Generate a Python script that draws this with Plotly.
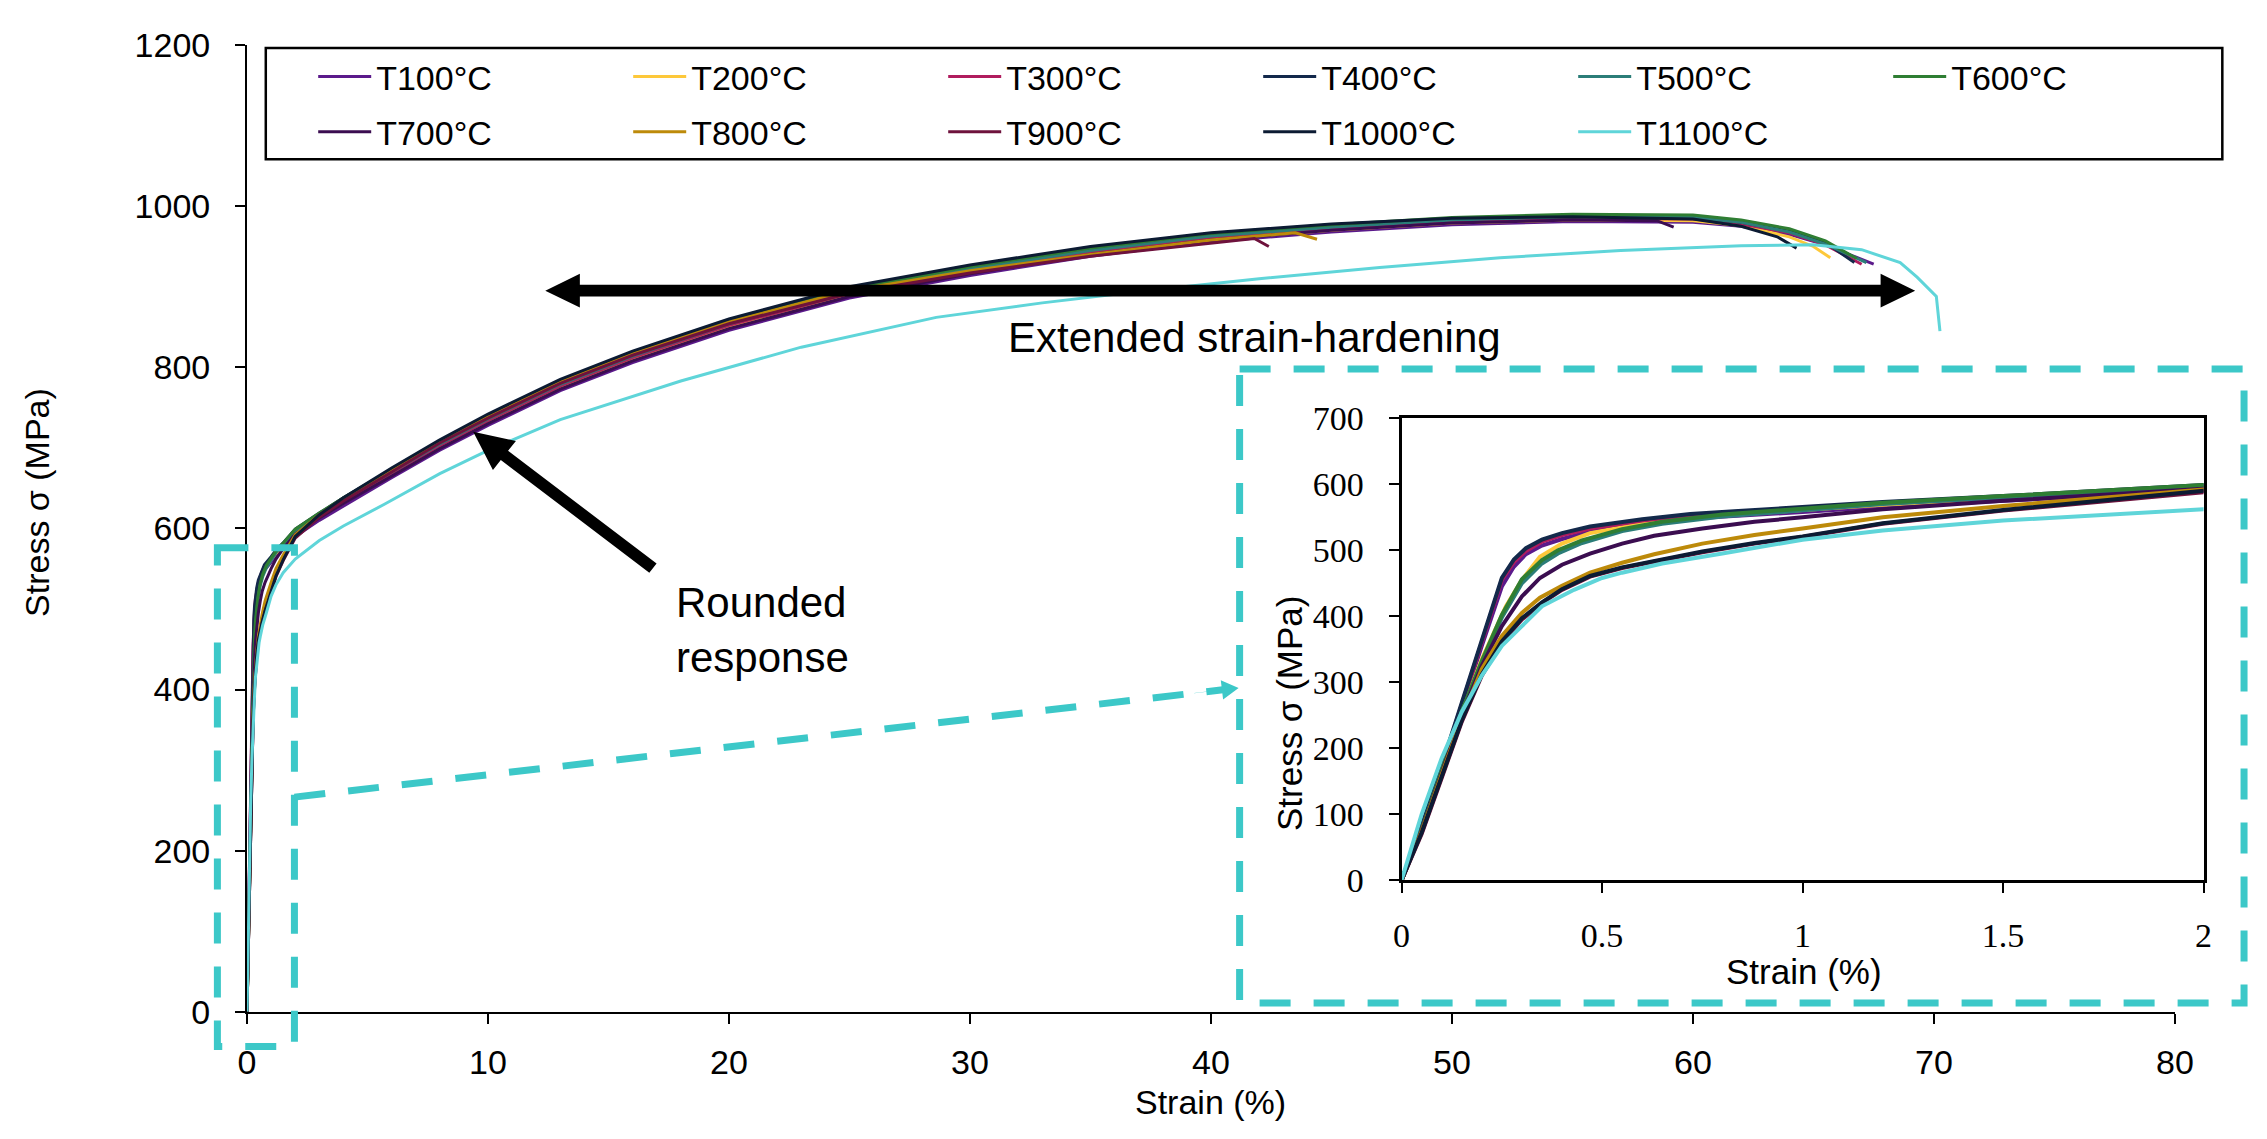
import plotly.graph_objects as go

# ---------------- data ----------------
names = ["T100°C", "T200°C", "T300°C", "T400°C", "T500°C", "T600°C",
         "T700°C", "T800°C", "T900°C", "T1000°C", "T1100°C"]
colors = ["#5b1a8b", "#fdc83a", "#b01c5e", "#13294b", "#2b7d78", "#2f7e33",
          "#3b0d50", "#bd8a0a", "#6e123c", "#0c1b33", "#5fd5d9"]

strain_T100 = [0, 0.05, 0.1, 0.15, 0.2, 0.25, 0.28, 0.31, 0.35, 0.4, 0.47, 0.6, 0.72, 1.0, 1.2, 1.5, 2.0,
               3, 4, 6, 8, 10, 13, 16, 20, 25, 30, 35, 40, 45, 50, 55, 60, 62, 64, 65.5, 66.5, 67.5]
stress_T100 = [0, 78, 168, 262, 355, 445, 475, 494, 507, 517, 528, 540, 548, 558, 566, 575, 590,
               610, 628, 663, 697, 728, 771, 806, 846, 886, 914, 938, 956, 968, 977, 981, 980, 975, 965, 952, 940, 928]

strain_T200 = [0, 0.05, 0.1, 0.15, 0.2, 0.26, 0.3, 0.345, 0.4, 0.47, 0.6, 0.72, 1.0, 1.2, 1.5, 2.0,
               3, 4, 6, 8, 10, 13, 16, 20, 25, 30, 35, 40, 45, 50, 55, 60, 62, 64, 65, 65.7]
stress_T200 = [0, 75, 165, 255, 335, 415, 455, 490, 510, 526, 540, 549, 561, 569, 579, 595,
               614, 632, 667, 701, 732, 775, 810, 850, 890, 918, 941, 959, 970, 979, 983, 982, 976, 962, 950, 936]

strain_T300 = [0, 0.05, 0.1, 0.15, 0.2, 0.25, 0.28, 0.31, 0.35, 0.4, 0.47, 0.6, 0.72, 1.0, 1.2, 1.5, 2.0,
               3, 4, 6, 8, 10, 13, 16, 20, 25, 30, 35, 40, 45, 50, 55, 60, 62, 64, 65.5, 67.0]
stress_T300 = [0, 80, 172, 268, 362, 455, 482, 499, 513, 523, 533, 545, 553, 563, 571, 580, 597,
               616, 634, 669, 703, 734, 777, 812, 852, 892, 920, 943, 961, 972, 981, 985, 984, 978, 967, 952, 928]

strain_T400 = [0, 0.05, 0.1, 0.15, 0.2, 0.25, 0.28, 0.31, 0.35, 0.4, 0.47, 0.6, 0.72, 1.0, 1.2, 1.5, 2.0,
               3, 4, 6, 8, 10, 13, 16, 20, 25, 30, 35, 40, 45, 50, 55, 60, 62, 64, 65.5, 66.7]
stress_T400 = [0, 82, 174, 270, 365, 458, 486, 503, 516, 526, 536, 547, 555, 565, 573, 582, 599,
               619, 638, 673, 708, 740, 783, 818, 858, 898, 925, 948, 965, 976, 984, 988, 986, 980, 969, 955, 930]

strain_T500 = [0, 0.05, 0.1, 0.15, 0.2, 0.25, 0.3, 0.35, 0.39, 0.45, 0.55, 0.65, 0.8, 1.0, 1.2, 1.5, 2.0,
               3, 4, 6, 8, 10, 13, 16, 20, 25, 30, 35, 40, 45, 50, 55, 60, 62, 64, 65.5, 67.2]
stress_T500 = [0, 76, 165, 255, 330, 398, 450, 480, 495, 511, 529, 540, 551, 561, 570, 580, 597,
               616, 635, 670, 705, 736, 779, 814, 854, 894, 922, 945, 963, 974, 983, 987, 986, 980, 968, 953, 930]

strain_T600 = [0, 0.05, 0.1, 0.15, 0.2, 0.25, 0.3, 0.35, 0.39, 0.45, 0.55, 0.65, 0.8, 1.0, 1.2, 1.5, 2.0,
               3, 4, 6, 8, 10, 13, 16, 20, 25, 30, 35, 40, 45, 50, 55, 60, 62, 64, 65.5, 66.8]
stress_T600 = [0, 76, 165, 255, 332, 402, 456, 485, 500, 515, 532, 543, 554, 563, 572, 582, 599,
               619, 638, 673, 708, 739, 782, 817, 857, 897, 925, 948, 966, 977, 986, 990, 989, 983, 972, 957, 935]

strain_T700 = [0, 0.05, 0.1, 0.15, 0.2, 0.25, 0.3, 0.345, 0.4, 0.47, 0.55, 0.63, 0.75, 0.88, 1.0, 1.2, 1.5, 2.0,
               3, 4, 6, 8, 10, 13, 16, 20, 25, 30, 35, 40, 45, 50, 55, 58.5, 59.2]
stress_T700 = [0, 75, 162, 250, 325, 385, 430, 458, 478, 495, 510, 522, 533, 543, 550, 562, 575, 593,
               613, 631, 665, 699, 730, 773, 808, 848, 888, 916, 940, 958, 970, 979, 983, 982, 974]

strain_T800 = [0, 0.05, 0.1, 0.15, 0.2, 0.25, 0.3, 0.345, 0.4, 0.47, 0.55, 0.63, 0.75, 0.88, 1.0, 1.2, 1.5, 2.0,
               3, 4, 6, 8, 10, 13, 16, 20, 25, 30, 35, 40, 43.5, 44.4]
stress_T800 = [0, 74, 160, 245, 320, 370, 405, 428, 446, 466, 481, 494, 510, 523, 533, 550, 567, 592,
               617, 637, 673, 708, 739, 782, 817, 857, 895, 920, 940, 958, 967, 959]

strain_T900 = [0, 0.05, 0.1, 0.15, 0.2, 0.25, 0.3, 0.35, 0.4, 0.47, 0.55, 0.63, 0.75, 0.88, 1.0, 1.2, 1.5, 2.0,
               3, 4, 6, 8, 10, 13, 16, 20, 25, 30, 35, 40, 41.8, 42.4]
stress_T900 = [0, 70, 155, 240, 310, 360, 395, 420, 440, 460, 473, 483, 497, 510, 520, 540, 560, 588,
               614, 634, 670, 706, 737, 780, 815, 854, 892, 917, 938, 954, 960, 950]

strain_T1000 = [0, 0.05, 0.1, 0.15, 0.2, 0.25, 0.3, 0.35, 0.4, 0.47, 0.55, 0.63, 0.75, 0.88, 1.0, 1.2, 1.5, 2.0,
                3, 4, 6, 8, 10, 13, 16, 20, 25, 30, 35, 40, 45, 50, 55, 60, 62, 63.5, 64.3]
stress_T1000 = [0, 72, 157, 242, 312, 362, 397, 421, 441, 461, 474, 484, 498, 511, 521, 541, 561, 590,
                617, 638, 675, 710, 742, 785, 820, 860, 900, 927, 950, 967, 978, 985, 987, 984, 975, 962, 948]

strain_T1100 = [0, 0.02, 0.05, 0.1, 0.15, 0.2, 0.25, 0.3, 0.35, 0.43, 0.5, 0.55, 0.65, 0.8, 1.0, 1.2, 1.5, 2.0,
                3, 4, 5.7, 8, 10, 13, 18, 23, 28.6, 33, 37, 42, 47, 52, 57, 62, 65, 67, 68.6, 69.3, 70.1, 70.25]
stress_T1100 = [0, 40, 100, 185, 255, 310, 355, 385, 415, 440, 458, 466, 480, 495, 516, 530, 545, 562,
                585, 603, 630, 668, 697, 735, 783, 825, 862, 880, 894, 910, 924, 936, 945, 951, 952, 946, 930, 912, 888, 845]

strains = [strain_T100, strain_T200, strain_T300, strain_T400, strain_T500, strain_T600,
           strain_T700, strain_T800, strain_T900, strain_T1000, strain_T1100]
stresses = [stress_T100, stress_T200, stress_T300, stress_T400, stress_T500, stress_T600,
            stress_T700, stress_T800, stress_T900, stress_T1000, stress_T1100]

main_x_ticks = [0, 10, 20, 30, 40, 50, 60, 70, 80]
main_y_ticks = [0, 200, 400, 600, 800, 1000, 1200]
inset_x_ticks = [0, 0.5, 1, 1.5, 2]
inset_y_ticks = [0, 100, 200, 300, 400, 500, 600, 700]

for s, t in zip(strains, stresses):
    assert len(s) == len(t)

# ---------------- layout helpers (pixel -> paper) ----------------
W, H = 2267, 1139


def X(px):
    return px / W


def Y(py):
    return 1 - py / H


SANS = "Liberation Sans, Arial, sans-serif"
SERIF = "Liberation Serif, Times New Roman, serif"
CYAN = "#3cc8c8"

fig = go.Figure()

for i, (n, c, s, t) in enumerate(zip(names, colors, strains, stresses)):
    fig.add_trace(go.Scatter(
        x=s, y=t, mode="lines", name=n, xaxis="x", yaxis="y",
        line=dict(color=c, width=3),
        legend="legend" if i < 6 else "legend2"))

for n, c, s, t in zip(names, colors, strains, stresses):
    fig.add_trace(go.Scatter(
        x=s, y=t, mode="lines", name=n, xaxis="x2", yaxis="y2",
        line=dict(color=c, width=4), showlegend=False))

axis_common = dict(showline=True, linecolor="black", ticks="outside", tickcolor="black",
                   showgrid=False, zeroline=False)

fig.update_layout(
    width=W, height=H,
    margin=dict(l=0, r=0, t=0, b=0),
    paper_bgcolor="white", plot_bgcolor="white",
    font=dict(family=SANS, size=34, color="black"),
    xaxis=dict(domain=[X(241), X(2193)], range=[0, 80], tickvals=main_x_ticks,
               linewidth=2, ticklen=10, tickwidth=2, anchor="y",
               tickfont=dict(family=SANS, size=34), ticklabelstandoff=9, **axis_common),
    yaxis=dict(domain=[Y(1027), Y(27)], range=[0, 1200], tickvals=main_y_ticks,
               linewidth=2, ticklen=10, tickwidth=2, anchor="x",
               tickfont=dict(family=SANS, size=34), ticklabelstandoff=18, **axis_common),
    xaxis2=dict(domain=[X(1410), X(2222)], range=[0, 2], tickvals=inset_x_ticks,
                linewidth=3, ticklen=10, tickwidth=2, anchor="y2", mirror=True,
                tickfont=dict(family=SERIF, size=34), ticklabelstandoff=13, **axis_common),
    yaxis2=dict(domain=[Y(891), Y(413)], range=[0, 700], tickvals=inset_y_ticks,
                linewidth=3, ticklen=10, tickwidth=2, anchor="x2", mirror=True,
                tickfont=dict(family=SERIF, size=34), ticklabelstandoff=18, **axis_common),
    legend=dict(x=X(308), y=Y(30), xanchor="left", yanchor="top", orientation="h",
                entrywidth=247, entrywidthmode="pixels", itemwidth=53,
                bgcolor="rgba(0,0,0,0)", borderwidth=0, font=dict(family=SANS, size=34)),
    legend2=dict(x=X(308), y=Y(87), xanchor="left", yanchor="top", orientation="h",
                 entrywidth=247, entrywidthmode="pixels", itemwidth=53,
                 bgcolor="rgba(0,0,0,0)", borderwidth=0, font=dict(family=SANS, size=34)),
)

shapes = []
# legend frame
shapes.append(dict(type="rect", xref="paper", yref="paper", x0=X(260), x1=X(2241), y0=Y(30), y1=Y(145),
                   line=dict(color="black", width=2.5), fillcolor="rgba(0,0,0,0)", layer="above"))
# dashed zoom boxes
dash = "31px,23px"
shapes.append(dict(type="rect", xref="paper", yref="paper", x0=X(1246), x1=X(2263), y0=Y(362), y1=Y(1018),
                   line=dict(color=CYAN, width=7, dash=dash)))
shapes.append(dict(type="rect", xref="paper", yref="paper", x0=X(211), x1=X(289), y0=Y(547), y1=Y(1063),
                   line=dict(color=CYAN, width=7, dash=dash)))


def poly(points):
    return "M " + " L ".join(f"{X(a):.5f},{Y(b):.5f}" for a, b in points) + " Z"


def arrow_points(tail, tip, head_len, head_half, shaft_half, double=False):
    import math
    dx, dy = tip[0] - tail[0], tip[1] - tail[1]
    L = math.hypot(dx, dy)
    ux, uy = dx / L, dy / L
    nx, ny = -uy, ux
    bx, by = tip[0] - ux * head_len, tip[1] - uy * head_len
    if double:
        sx, sy = tail[0] + ux * head_len, tail[1] + uy * head_len
    else:
        sx, sy = tail
    pts = [tip,
           (bx + nx * head_half, by + ny * head_half),
           (bx + nx * shaft_half, by + ny * shaft_half),
           (sx + nx * shaft_half, sy + ny * shaft_half)]
    if double:
        pts += [(sx + nx * head_half, sy + ny * head_half), tail,
                (sx - nx * head_half, sy - ny * head_half)]
    pts += [(sx - nx * shaft_half, sy - ny * shaft_half),
            (bx - nx * shaft_half, by - ny * shaft_half),
            (bx - nx * head_half, by - ny * head_half)]
    return pts


# dashed connector + arrowhead
shapes.append(dict(type="line", xref="paper", yref="paper", x0=X(289), y0=Y(805), x1=X(1229), y1=Y(694),
                   line=dict(color=CYAN, width=7, dash=dash)))
shapes.append(dict(type="path", xref="paper", yref="paper",
                   path=poly(arrow_points((1200, 697.3), (1245, 692), 17, 10, 0.1)),
                   fillcolor=CYAN, line=dict(width=0)))
# black double arrow
shapes.append(dict(type="path", xref="paper", yref="paper",
                   path=poly(arrow_points((543, 281), (1930, 281), 35, 17.5, 6, double=True)),
                   fillcolor="black", line=dict(width=0)))
# black arrow for rounded response
shapes.append(dict(type="path", xref="paper", yref="paper",
                   path=poly(arrow_points((652, 568), (470, 427), 40, 19, 6)),
                   fillcolor="black", line=dict(width=0)))

annotations = [
    dict(text="Stress σ (MPa)", x=X(29), y=Y(500), textangle=-90, font=dict(family=SANS, size=34)),
    dict(text="Strain (%)", x=X(1217), y=Y(1120), font=dict(family=SANS, size=34)),
    dict(text="Stress σ (MPa)", x=X(1296), y=Y(718), textangle=-90, font=dict(family=SANS, size=35)),
    dict(text="Strain (%)", x=X(1817), y=Y(985), font=dict(family=SANS, size=35)),
    dict(text="Extended strain-hardening", x=X(1261), y=Y(330), font=dict(family=SANS, size=42)),
    dict(text="Rounded<br>response", x=X(673), y=Y(632), xanchor="left", align="left",
         font=dict(family=SANS, size=42)),
]
for a in annotations:
    a.update(xref="paper", yref="paper", showarrow=False)
    a.setdefault("xanchor", "center")
    a.setdefault("yanchor", "middle")

fig.update_layout(shapes=shapes, annotations=annotations)
fig.write_html("out.html")
